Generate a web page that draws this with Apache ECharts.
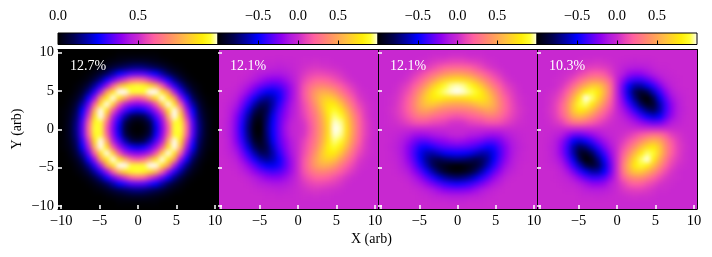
<!DOCTYPE html>
<html><head><meta charset="utf-8"><style>html,body{margin:0;background:#fff}#c{width:712px;height:257px}</style>
<script src="https://cdn.jsdelivr.net/npm/echarts@6/dist/echarts.min.js"></script></head>
<body><div id="c"></div><script>
const gridCoords=[-10.4,-9.6,-8.8,-8,-7.2,-6.4,-5.6,-4.8,-4,-3.2,-2.4,-1.6,-0.8,0,0.8,1.6,2.4,3.2,4,4.8,5.6,6.4,7.2,8,8.8,9.6,10.4];
const panelLabels=['12.7%','12.1%','12.1%','10.3%'];
const colorStops=['#000000','#000028','#000050','#000088','#0000c0','#0000ff','#3000ff','#6000f8','#9000f0','#b018e0','#c828d0','#e845b8','#ff60a0','#ff7884','#ff9068','#ffa854','#ffc040','#ffd820','#ffef08','#ffff30','#ffffff'];
const axisTicks=[-10,-5,0,5,10];
const barTicksFirst=[0,0.5];
const barTicksOther=[-0.5,0,0.5];
// rows run from y=+10.4 down to y=-10.4; values are percent of full scale
const ringRows=[
[0,0,0,0,0,0,0,0,0,0,0,0,0,0,0,0,0,0,0,0,0,0,0,0,0,0,0],
[0,0,0,0,0,0,0,0,0,0,1,1,1,1,1,1,1,0,0,0,0,0,0,0,0,0,0],
[0,0,0,0,0,0,0,0,1,2,3,4,5,5,5,4,3,2,1,0,0,0,0,0,0,0,0],
[0,0,0,0,0,0,1,2,4,7,10,12,14,15,14,12,10,7,4,2,1,0,0,0,0,0,0],
[0,0,0,0,0,1,3,6,11,18,25,29,33,34,33,29,25,18,11,6,3,1,0,0,0,0,0],
[0,0,0,0,1,3,8,15,26,35,44,52,59,62,59,52,44,35,26,15,8,3,1,0,0,0,0],
[0,0,0,1,3,8,17,29,42,59,78,86,93,95,93,86,78,59,42,29,17,8,3,1,0,0,0],
[0,0,0,2,6,15,29,45,72,88,100,100,95,95,95,100,100,88,72,45,29,15,6,2,0,0,0],
[0,0,1,4,11,26,42,72,90,100,88,76,62,58,62,76,88,100,90,72,42,26,11,4,1,0,0],
[0,0,2,7,18,35,59,88,100,85,58,46,41,39,41,46,58,85,100,88,59,35,18,7,2,0,0],
[0,1,3,10,25,44,78,100,88,58,43,33,26,23,26,33,43,58,88,100,78,44,25,10,3,1,0],
[0,1,4,12,29,52,86,100,76,46,33,19,9,7,9,19,33,46,76,100,86,52,29,12,4,1,0],
[0,1,5,14,33,59,93,95,62,41,26,9,3,1,3,9,26,41,62,95,93,59,33,14,5,1,0],
[0,1,5,15,34,62,95,95,58,39,23,7,1,0,1,7,23,39,58,95,95,62,34,15,5,1,0],
[0,1,5,14,33,59,93,95,62,41,26,9,3,1,3,9,26,41,62,95,93,59,33,14,5,1,0],
[0,1,4,12,29,52,86,100,76,46,33,19,9,7,9,19,33,46,76,100,86,52,29,12,4,1,0],
[0,1,3,10,25,44,78,100,88,58,43,33,26,23,26,33,43,58,88,100,78,44,25,10,3,1,0],
[0,0,2,7,18,35,59,88,100,85,58,46,41,39,41,46,58,85,100,88,59,35,18,7,2,0,0],
[0,0,1,4,11,26,42,72,90,100,88,76,62,58,62,76,88,100,90,72,42,26,11,4,1,0,0],
[0,0,0,2,6,15,29,45,72,88,100,100,95,95,95,100,100,88,72,45,29,15,6,2,0,0,0],
[0,0,0,1,3,8,17,29,42,59,78,86,93,95,93,86,78,59,42,29,17,8,3,1,0,0,0],
[0,0,0,0,1,3,8,15,26,35,44,52,59,62,59,52,44,35,26,15,8,3,1,0,0,0,0],
[0,0,0,0,0,1,3,6,11,18,25,29,33,34,33,29,25,18,11,6,3,1,0,0,0,0,0],
[0,0,0,0,0,0,1,2,4,7,10,12,14,15,14,12,10,7,4,2,1,0,0,0,0,0,0],
[0,0,0,0,0,0,0,0,1,2,3,4,5,5,5,4,3,2,1,0,0,0,0,0,0,0,0],
[0,0,0,0,0,0,0,0,0,0,1,1,1,1,1,1,1,0,0,0,0,0,0,0,0,0,0],
[0,0,0,0,0,0,0,0,0,0,0,0,0,0,0,0,0,0,0,0,0,0,0,0,0,0,0]];
const cosRows=[
[0,0,0,0,0,0,0,0,0,0,0,0,0,0,0,0,0,0,0,0,0,0,0,0,0,0,0],
[0,0,0,0,0,0,0,0,0,0,0,0,0,0,0,0,0,0,0,0,0,0,0,0,0,0,0],
[0,0,0,0,0,0,0,0,-1,-1,-2,-1,-1,0,1,1,2,1,1,0,0,0,0,0,0,0,0],
[0,0,0,0,0,0,-1,-2,-3,-4,-5,-4,-2,0,2,4,5,4,3,2,1,0,0,0,0,0,0],
[0,0,0,0,0,-1,-4,-7,-9,-11,-11,-9,-5,0,5,9,11,11,9,7,4,1,0,0,0,0,0],
[0,0,0,0,-1,-4,-9,-14,-19,-21,-21,-16,-9,0,9,16,21,21,19,14,9,4,1,0,0,0,0],
[0,0,0,-1,-5,-11,-19,-27,-33,-36,-33,-25,-14,0,14,25,33,36,33,27,19,11,5,1,0,0,0],
[0,0,-1,-3,-10,-19,-31,-43,-51,-52,-45,-31,-16,0,16,31,45,52,51,43,31,19,10,3,1,0,0],
[0,0,-2,-6,-17,-31,-46,-61,-68,-62,-48,-31,-15,0,15,31,48,62,68,61,46,31,17,6,2,0,0],
[0,-1,-4,-11,-25,-42,-63,-78,-78,-64,-43,-26,-12,0,12,26,43,64,78,78,63,42,25,11,4,1,0],
[0,-1,-6,-16,-33,-55,-78,-89,-81,-58,-37,-22,-10,0,10,22,37,58,81,89,78,55,33,16,6,1,0],
[0,-1,-7,-21,-40,-65,-89,-94,-77,-52,-33,-19,-8,0,8,19,33,52,77,94,89,65,40,21,7,1,0],
[0,-2,-9,-23,-44,-71,-95,-98,-74,-49,-31,-16,-4,0,4,16,31,49,74,98,95,71,44,23,9,2,0],
[0,-2,-9,-24,-46,-74,-97,-100,-72,-48,-30,-14,-3,0,3,14,30,48,72,100,97,74,46,24,9,2,0],
[0,-2,-9,-23,-44,-71,-95,-98,-74,-49,-31,-16,-4,0,4,16,31,49,74,98,95,71,44,23,9,2,0],
[0,-1,-7,-21,-40,-65,-89,-94,-77,-52,-33,-19,-8,0,8,19,33,52,77,94,89,65,40,21,7,1,0],
[0,-1,-6,-16,-33,-55,-78,-89,-81,-58,-37,-22,-10,0,10,22,37,58,81,89,78,55,33,16,6,1,0],
[0,-1,-4,-11,-25,-42,-63,-78,-78,-64,-43,-26,-12,0,12,26,43,64,78,78,63,42,25,11,4,1,0],
[0,0,-2,-6,-17,-31,-46,-61,-68,-62,-48,-31,-15,0,15,31,48,62,68,61,46,31,17,6,2,0,0],
[0,0,-1,-3,-10,-19,-31,-43,-51,-52,-45,-31,-16,0,16,31,45,52,51,43,31,19,10,3,1,0,0],
[0,0,0,-1,-5,-11,-19,-27,-33,-36,-33,-25,-14,0,14,25,33,36,33,27,19,11,5,1,0,0,0],
[0,0,0,0,-1,-4,-9,-14,-19,-21,-21,-16,-9,0,9,16,21,21,19,14,9,4,1,0,0,0,0],
[0,0,0,0,0,-1,-4,-7,-9,-11,-11,-9,-5,0,5,9,11,11,9,7,4,1,0,0,0,0,0],
[0,0,0,0,0,0,-1,-2,-3,-4,-5,-4,-2,0,2,4,5,4,3,2,1,0,0,0,0,0,0],
[0,0,0,0,0,0,0,0,-1,-1,-2,-1,-1,0,1,1,2,1,1,0,0,0,0,0,0,0,0],
[0,0,0,0,0,0,0,0,0,0,0,0,0,0,0,0,0,0,0,0,0,0,0,0,0,0,0],
[0,0,0,0,0,0,0,0,0,0,0,0,0,0,0,0,0,0,0,0,0,0,0,0,0,0,0]];
const sinRows=[
[0,0,0,0,0,0,0,0,0,0,0,0,0,0,0,0,0,0,0,0,0,0,0,0,0,0,0],
[0,0,0,0,0,0,0,0,0,1,1,1,2,2,2,1,1,1,0,0,0,0,0,0,0,0,0],
[0,0,0,0,0,0,0,1,2,4,6,7,9,9,9,7,6,4,2,1,0,0,0,0,0,0,0],
[0,0,0,0,0,0,1,3,6,11,16,21,23,24,23,21,16,11,6,3,1,0,0,0,0,0,0],
[0,0,0,0,0,1,5,10,17,25,33,40,44,46,44,40,33,25,17,10,5,1,0,0,0,0,0],
[0,0,0,0,1,4,11,19,31,42,55,65,71,74,71,65,55,42,31,19,11,4,1,0,0,0,0],
[0,0,0,1,4,9,19,31,46,63,78,89,95,97,95,89,78,63,46,31,19,9,4,1,0,0,0],
[0,0,0,2,7,14,27,43,61,78,89,94,98,100,98,94,89,78,61,43,27,14,7,2,0,0,0],
[0,0,1,3,9,19,33,51,68,78,81,77,74,72,74,77,81,78,68,51,33,19,9,3,1,0,0],
[0,0,1,4,11,21,36,52,62,64,58,52,49,48,49,52,58,64,62,52,36,21,11,4,1,0,0],
[0,0,2,5,11,21,33,45,48,43,37,33,31,30,31,33,37,43,48,45,33,21,11,5,2,0,0],
[0,0,1,4,9,16,25,31,31,26,22,19,16,14,16,19,22,26,31,31,25,16,9,4,1,0,0],
[0,0,1,2,5,9,14,16,15,12,10,8,4,3,4,8,10,12,15,16,14,9,5,2,1,0,0],
[0,0,0,0,0,0,0,0,0,0,0,0,0,0,0,0,0,0,0,0,0,0,0,0,0,0,0],
[0,0,-1,-2,-5,-9,-14,-16,-15,-12,-10,-8,-4,-3,-4,-8,-10,-12,-15,-16,-14,-9,-5,-2,-1,0,0],
[0,0,-1,-4,-9,-16,-25,-31,-31,-26,-22,-19,-16,-14,-16,-19,-22,-26,-31,-31,-25,-16,-9,-4,-1,0,0],
[0,0,-2,-5,-11,-21,-33,-45,-48,-43,-37,-33,-31,-30,-31,-33,-37,-43,-48,-45,-33,-21,-11,-5,-2,0,0],
[0,0,-1,-4,-11,-21,-36,-52,-62,-64,-58,-52,-49,-48,-49,-52,-58,-64,-62,-52,-36,-21,-11,-4,-1,0,0],
[0,0,-1,-3,-9,-19,-33,-51,-68,-78,-81,-77,-74,-72,-74,-77,-81,-78,-68,-51,-33,-19,-9,-3,-1,0,0],
[0,0,0,-2,-7,-14,-27,-43,-61,-78,-89,-94,-98,-100,-98,-94,-89,-78,-61,-43,-27,-14,-7,-2,0,0,0],
[0,0,0,-1,-4,-9,-19,-31,-46,-63,-78,-89,-95,-97,-95,-89,-78,-63,-46,-31,-19,-9,-4,-1,0,0,0],
[0,0,0,0,-1,-4,-11,-19,-31,-42,-55,-65,-71,-74,-71,-65,-55,-42,-31,-19,-11,-4,-1,0,0,0,0],
[0,0,0,0,0,-1,-5,-10,-17,-25,-33,-40,-44,-46,-44,-40,-33,-25,-17,-10,-5,-1,0,0,0,0,0],
[0,0,0,0,0,0,-1,-3,-6,-11,-16,-21,-23,-24,-23,-21,-16,-11,-6,-3,-1,0,0,0,0,0,0],
[0,0,0,0,0,0,0,-1,-2,-4,-6,-7,-9,-9,-9,-7,-6,-4,-2,-1,0,0,0,0,0,0,0],
[0,0,0,0,0,0,0,0,0,-1,-1,-1,-2,-2,-2,-1,-1,-1,0,0,0,0,0,0,0,0,0],
[0,0,0,0,0,0,0,0,0,0,0,0,0,0,0,0,0,0,0,0,0,0,0,0,0,0,0]];
const quadRows=[
[0,0,0,0,0,0,0,0,0,0,0,0,0,0,0,0,0,0,0,0,0,0,0,0,0,0,0],
[0,0,0,0,0,0,0,0,0,0,0,0,0,0,0,0,0,0,0,0,0,0,0,0,0,0,0],
[0,0,0,0,0,0,0,1,2,2,3,2,1,0,-1,-2,-3,-2,-2,-1,0,0,0,0,0,0,0],
[0,0,0,0,0,1,1,3,6,8,8,7,4,0,-4,-7,-8,-8,-6,-3,-1,-1,0,0,0,0,0],
[0,0,0,0,1,2,4,9,14,19,20,17,8,0,-8,-17,-20,-19,-14,-9,-4,-2,-1,0,0,0,0],
[0,0,0,1,2,5,12,21,31,38,38,32,18,0,-18,-32,-38,-38,-31,-21,-12,-5,-2,-1,0,0,0],
[0,0,0,1,4,12,25,40,53,64,64,50,27,0,-27,-50,-64,-64,-53,-40,-25,-12,-4,-1,0,0,0],
[0,0,1,3,9,21,40,60,81,89,79,56,29,0,-29,-56,-79,-89,-81,-60,-40,-21,-9,-3,-1,0,0],
[0,0,2,6,14,31,53,81,100,93,73,49,24,0,-24,-49,-73,-93,-100,-81,-53,-31,-14,-6,-2,0,0],
[0,0,2,8,19,38,64,89,93,79,58,38,18,0,-18,-38,-58,-79,-93,-89,-64,-38,-19,-8,-2,0,0],
[0,0,3,8,20,38,64,79,73,58,41,25,12,0,-12,-25,-41,-58,-73,-79,-64,-38,-20,-8,-3,0,0],
[0,0,2,7,17,32,50,56,49,38,25,15,6,0,-6,-15,-25,-38,-49,-56,-50,-32,-17,-7,-2,0,0],
[0,0,1,4,8,18,27,29,24,18,12,6,2,0,-2,-6,-12,-18,-24,-29,-27,-18,-8,-4,-1,0,0],
[0,0,0,0,0,0,0,0,0,0,0,0,0,0,0,0,0,0,0,0,0,0,0,0,0,0,0],
[0,0,-1,-4,-8,-18,-27,-29,-24,-18,-12,-6,-2,0,2,6,12,18,24,29,27,18,8,4,1,0,0],
[0,0,-2,-7,-17,-32,-50,-56,-49,-38,-25,-15,-6,0,6,15,25,38,49,56,50,32,17,7,2,0,0],
[0,0,-3,-8,-20,-38,-64,-79,-73,-58,-41,-25,-12,0,12,25,41,58,73,79,64,38,20,8,3,0,0],
[0,0,-2,-8,-19,-38,-64,-89,-93,-79,-58,-38,-18,0,18,38,58,79,93,89,64,38,19,8,2,0,0],
[0,0,-2,-6,-14,-31,-53,-81,-100,-93,-73,-49,-24,0,24,49,73,93,100,81,53,31,14,6,2,0,0],
[0,0,-1,-3,-9,-21,-40,-60,-81,-89,-79,-56,-29,0,29,56,79,89,81,60,40,21,9,3,1,0,0],
[0,0,0,-1,-4,-12,-25,-40,-53,-64,-64,-50,-27,0,27,50,64,64,53,40,25,12,4,1,0,0,0],
[0,0,0,-1,-2,-5,-12,-21,-31,-38,-38,-32,-18,0,18,32,38,38,31,21,12,5,2,1,0,0,0],
[0,0,0,0,-1,-2,-4,-9,-14,-19,-20,-17,-8,0,8,17,20,19,14,9,4,2,1,0,0,0,0],
[0,0,0,0,0,-1,-1,-3,-6,-8,-8,-7,-4,0,4,7,8,8,6,3,1,1,0,0,0,0,0],
[0,0,0,0,0,0,0,-1,-2,-2,-3,-2,-1,0,1,2,3,2,2,1,0,0,0,0,0,0,0],
[0,0,0,0,0,0,0,0,0,0,0,0,0,0,0,0,0,0,0,0,0,0,0,0,0,0,0],
[0,0,0,0,0,0,0,0,0,0,0,0,0,0,0,0,0,0,0,0,0,0,0,0,0,0,0]];

const panels=[ringRows,cosRows,sinRows,quadRows];
const lefts=[58,218,378,537], widths=[160,160,159,160];
const PANEL_TOP=49.5, PANEL_H=159.5;
const FONT='"Liberation Serif"', FS=14.5, TOP_Z=10;
const tableOf=rows=>{const d=[];rows.forEach((r,j)=>r.forEach((v,i)=>d.push([gridCoords[i],gridCoords[26-j],v])));return d;};
const minus=s=>String(s).replace('-','\u2212');
const line={lineStyle:{color:'#000',width:1}};
const grid=[],xAxis=[],yAxis=[],series=[],visualMap=[],title=[];
const gradient=new echarts.graphic.LinearGradient(0,0,1,0,colorStops.map((c,i)=>({offset:i/(colorStops.length-1),color:c})));
panels.forEach((rows,p)=>{
  grid.push({left:lefts[p],width:widths[p],top:PANEL_TOP,height:PANEL_H,zlevel:TOP_Z});
  const ticks={show:true,inside:true,length:4,customValues:axisTicks,lineStyle:{color:'#fff',width:1.5}};
  const xLabels=p===0?axisTicks:axisTicks.slice(1);
  xAxis.push({type:'value',gridIndex:p,zlevel:TOP_Z,min:-10.4,max:10.4,position:'bottom',z:5,axisLine:{show:true,onZero:false,...line},axisTick:ticks,splitLine:{show:false},
    axisLabel:{customValues:xLabels,margin:5,color:'#000',fontFamily:FONT,fontSize:FS,formatter:minus}});
  yAxis.push({type:'value',gridIndex:p,zlevel:TOP_Z,min:-10.4,max:10.4,position:'left',z:5,axisLine:{show:true,onZero:false,...line},axisTick:ticks,splitLine:{show:false},
    axisLabel:{show:p===0,customValues:axisTicks,margin:4,color:'#000',fontFamily:FONT,fontSize:FS,formatter:minus}});
  visualMap.push({show:false,type:'continuous',seriesIndex:p,dimension:2,min:p===0?0:-100,max:100,inRange:{color:colorStops}});
  series.push({type:'custom',xAxisIndex:p,yAxisIndex:p,clip:false,animation:false,silent:true,zlevel:p+1,z:2,progressive:0,
    data:tableOf(rows),encode:{x:0,y:1},
    renderItem(params,api){
      const xv=api.value(0),yv=api.value(1);
      const c=api.coord([xv,yv]),s=api.size([0.8,0.8]),col=api.visual('color');
      // outermost cells run on past the frame so the soft edge stays inside the panel colour
      const padL=xv===gridCoords[0]?25:0,padR=xv===gridCoords[26]?25:0,padT=yv===gridCoords[26]?25:0,padB=yv===gridCoords[0]?25:0;
      return {type:'rect',shape:{x:c[0]-s[0]/2-0.5-padL,y:c[1]-s[1]/2-0.5-padT,width:s[0]+1+padL+padR,height:s[1]+1+padT+padB},style:{fill:col}};
    }});
  title.push({text:panelLabels[p],zlevel:TOP_Z,left:lefts[p]+12,top:59,textStyle:{color:'#fff',fontFamily:FONT,fontSize:14,fontWeight:'normal'},padding:0});
});
// frame sides: top and right of each panel
panels.forEach((rows,p)=>{
  xAxis.push({type:'value',gridIndex:p,zlevel:TOP_Z,min:-10.4,max:10.4,position:'top',z:5,axisLine:{show:true,onZero:false,...line},axisTick:{show:false},axisLabel:{show:false},splitLine:{show:false}});
  yAxis.push({type:'value',gridIndex:p,zlevel:TOP_Z,min:-10.4,max:10.4,position:'right',z:5,axisLine:{show:true,onZero:false,...line},axisTick:{show:false},axisLabel:{show:false},splitLine:{show:false}});
});
// colour bars
panels.forEach((rows,p)=>{
  const gi=grid.length, tv=p===0?barTicksFirst:barTicksOther;
  grid.push({show:true,zlevel:TOP_Z,left:lefts[p],width:widths[p],top:33,height:11.5,backgroundColor:gradient,borderColor:'#000',borderWidth:1});
  xAxis.push({type:'value',gridIndex:gi,zlevel:TOP_Z,min:p===0?0:-1,max:1,interval:0.5,position:'top',z:5,axisLine:{show:false},splitLine:{show:false},
    axisTick:{show:true,length:4,customValues:tv,lineStyle:{color:'#000',width:1}},
    axisLabel:{customValues:tv,margin:9,color:'#000',fontFamily:FONT,fontSize:FS,formatter:v=>minus(Number(v).toFixed(1))}});
  yAxis.push({type:'value',gridIndex:gi,zlevel:TOP_Z,min:0,max:1,show:false});
});
const chart=echarts.init(document.getElementById('c'),null,{renderer:'canvas'});
chart.setOption({animation:false,backgroundColor:'transparent',grid,xAxis,yAxis,visualMap,series,title,
  graphic:[
   {type:'text',zlevel:TOP_Z,left:351,top:232,style:{text:'X (arb)',fill:'#000',font:'14px "Liberation Serif"'}},
   {type:'text',zlevel:TOP_Z,x:17,y:129,rotation:Math.PI/2,style:{text:'Y (arb)',fill:'#000',font:'14px "Liberation Serif"',align:'center',verticalAlign:'middle'}}
  ]});
// soften each panel's own canvas layer and trim it back to the panel frame
const softenLayers=()=>{
  const layers=chart.getZr().painter.getLayers();
  panels.forEach((_,p)=>{
    const layer=layers[p+1];
    if(!layer||!layer.dom)return;
    layer.dom.style.filter='blur(2.5px)';
    layer.dom.style.clipPath=`inset(${PANEL_TOP}px ${712-lefts[p]-widths[p]}px ${257-PANEL_TOP-PANEL_H}px ${lefts[p]}px)`;
  });
};
softenLayers();
chart.on('finished',softenLayers);
</script></body></html>
